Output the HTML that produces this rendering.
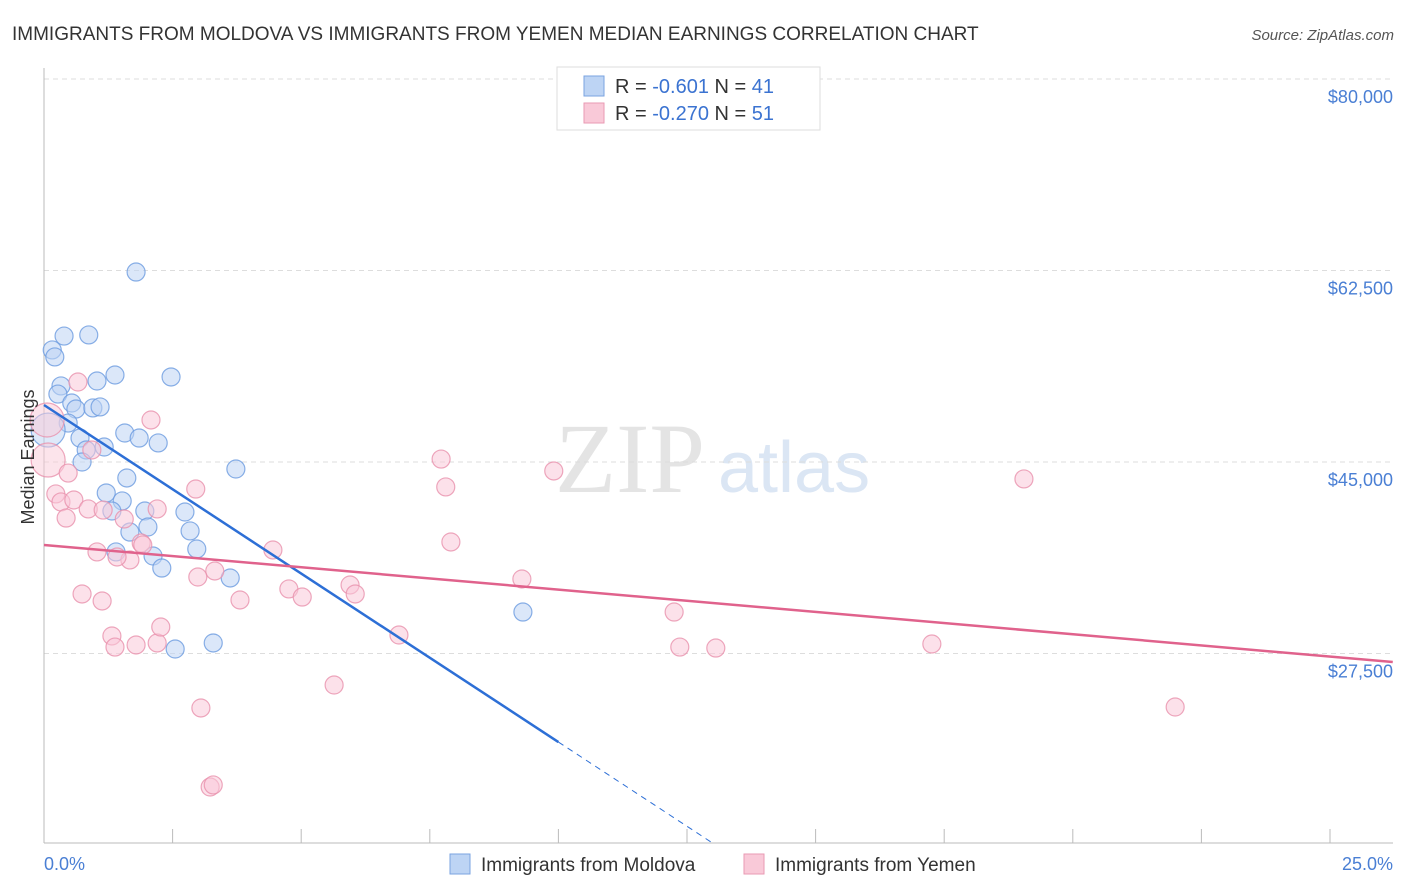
<!DOCTYPE html>
<html><head><meta charset="utf-8"><style>
body{margin:0;background:#fff;font-family:"Liberation Sans",sans-serif;}
svg{display:block}
</style></head><body>
<svg id="chart" width="1406" height="892" xmlns="http://www.w3.org/2000/svg">
<text x="12" y="40" font-size="19" fill="#333">IMMIGRANTS FROM MOLDOVA VS IMMIGRANTS FROM YEMEN MEDIAN EARNINGS CORRELATION CHART</text>
<text x="1394" y="40" font-size="15" fill="#555" font-style="italic" text-anchor="end">Source: ZipAtlas.com</text>
<text x="555" y="492" font-size="100" fill="#e4e4e4" font-family="Liberation Serif">ZIP</text>
<text x="718" y="492" font-size="72" fill="#dbe6f4">atlas</text>
<g id="grid"></g><g id="axes"></g><g id="pts"></g><g id="lines"></g>
<text x="34" y="457" font-size="18" fill="#333" text-anchor="middle" transform="rotate(-90 34 457)">Median Earnings</text>
<text x="44" y="870" font-size="18" fill="#4a7fd4">0.0%</text>
<text x="1393" y="870" font-size="18" fill="#4a7fd4" text-anchor="end">25.0%</text>
<g>
<rect x="557" y="67" width="263" height="63" fill="#fff" stroke="#ddd"/>
<rect x="584" y="76" width="20" height="20" fill="#bdd4f4" stroke="#7aa3e0"/>
<rect x="584" y="103" width="20" height="20" fill="#f9c9d8" stroke="#e99ab3"/>
<text x="615" y="93" font-size="20" fill="#333">R = <tspan fill="#3b73d1">-0.601</tspan>   N = <tspan fill="#3b73d1">41</tspan></text>
<text x="615" y="120" font-size="20" fill="#333">R = <tspan fill="#3b73d1">-0.270</tspan>   N = <tspan fill="#3b73d1">51</tspan></text>
</g>
<g>
<rect x="450" y="854" width="20" height="20" fill="#bdd4f4" stroke="#7aa3e0"/>
<text x="481" y="871" font-size="19" fill="#333">Immigrants from Moldova</text>
<rect x="744" y="854" width="20" height="20" fill="#f9c9d8" stroke="#e99ab3"/>
<text x="775" y="871" font-size="19" fill="#333">Immigrants from Yemen</text>
</g>
</svg>
<script>
const yTicks=[80000,62500,45000,27500];
const yTickLabels=["$80,000","$62,500","$45,000","$27,500"];
const xTicks=[0,2.5,5,7.5,10,12.5,15,17.5,20,22.5,25];
const moldovaX=[1.79,0.16,0.21,0.39,0.87,1.03,1.38,2.47,0.33,0.27,0.54,0.62,0.95,1.09,0.47,0.08,1.57,1.85,2.22,0.70,0.82,1.17,0.74,3.73,1.61,1.21,1.52,1.32,1.96,2.74,2.02,1.67,2.84,1.40,2.97,2.12,2.29,3.62,9.31,3.29,2.55];
const moldovaY=[62.36,55.24,54.60,56.51,56.61,52.40,52.95,52.77,51.95,51.21,50.39,49.84,49.94,50.03,48.56,47.92,47.65,47.19,46.74,47.19,46.10,46.37,45.00,44.36,43.54,42.17,41.44,40.52,40.52,40.43,39.06,38.60,38.70,36.78,37.05,36.41,35.31,34.40,31.29,28.46,27.91];
const yemenX=[0.66,2.08,0.93,0.08,0.47,0.23,0.33,0.58,2.95,0.86,1.15,2.20,0.43,1.56,1.03,1.89,1.92,1.67,1.42,4.45,3.32,2.99,4.76,5.02,5.95,6.05,3.81,0.74,1.13,1.32,1.38,1.79,2.20,2.27,6.90,7.72,7.81,7.91,9.91,9.29,12.25,12.36,13.06,17.26,19.05,21.99,5.64,3.05,3.23,3.29,0.06];
const yemenY=[52.31,48.84,46.10,45.18,43.99,42.08,41.35,41.53,42.53,40.71,40.61,40.71,39.88,39.79,36.78,37.60,37.42,36.05,36.32,36.96,35.04,34.49,33.40,32.66,33.76,32.94,32.39,32.94,32.30,29.10,28.09,28.28,28.46,29.92,29.19,45.27,42.72,37.69,44.18,34.31,31.29,28.09,28.00,28.37,43.45,22.61,24.62,22.52,15.30,15.49,48.84];
const moldovaTrend=[50210,-3080];
const yemenTrend=[37420,-408];
const NS="http://www.w3.org/2000/svg";
const xs=v=>44+v*51.44;
const ys=v=>79+(80000-v)/17500*191.5;
function mk(parent,tag,attrs){const e=document.createElementNS(NS,tag);for(const k in attrs)e.setAttribute(k,attrs[k]);document.getElementById(parent).appendChild(e);return e;}
yTicks.forEach((t,i)=>{
 const l=mk('grid','line',{x1:44,x2:1393,y1:ys(t),y2:ys(t),stroke:'#ddd','stroke-dasharray':'5,4'});
 
 
 const tx=mk('grid','text',{x:1393,y:ys(t)+24,'font-size':18,fill:'#4a7fd4','text-anchor':'end'});
 tx.textContent=yTickLabels[i];
 
 
});
const ax=mk('axes','line',{x1:44,x2:44,y1:68,y2:843,stroke:'#bbb'});


const bx=mk('axes','line',{x1:44,x2:1393,y1:843,y2:843,stroke:'#bbb'});


xTicks.forEach(t=>{
 const l=mk('axes','line',{x1:xs(t),x2:xs(t),y1:829,y2:843,stroke:'#bbb'});
 
 
});
function pts(X,Y,fill,stroke,name){
 X.forEach((x,i)=>{
  const big=x<0.1;
  const c=mk('pts','circle',{cx:xs(x),cy:ys(Y[i]*1000),r:big?17:9,fill:fill,'fill-opacity':big?0.5:0.55,stroke:stroke,'stroke-width':1.2,'stroke-opacity':0.8});
  
  
 });
}
pts(moldovaX,moldovaY,'#bdd4f4','#6b9be0','moldova-point');
pts(yemenX,yemenY,'#f9c9d8','#e891ad','yemen-point');
const tm=v=>moldovaTrend[0]+moldovaTrend[1]*v;
const ty=v=>yemenTrend[0]+yemenTrend[1]*v;
const l1=mk('lines','line',{x1:xs(0),y1:ys(tm(0)),x2:xs(10),y2:ys(tm(10)),stroke:'#2d6fd6','stroke-width':2.5});


const l1d=mk('lines','line',{x1:xs(10),y1:ys(tm(10)),x2:xs(13),y2:ys(tm(13)),stroke:'#2d6fd6','stroke-width':1,'stroke-dasharray':'6,5'});


const l2=mk('lines','line',{x1:xs(0),y1:ys(ty(0)),x2:xs(26.22),y2:ys(ty(26.22)),stroke:'#e0628c','stroke-width':2.5});


</script>
</body></html>
